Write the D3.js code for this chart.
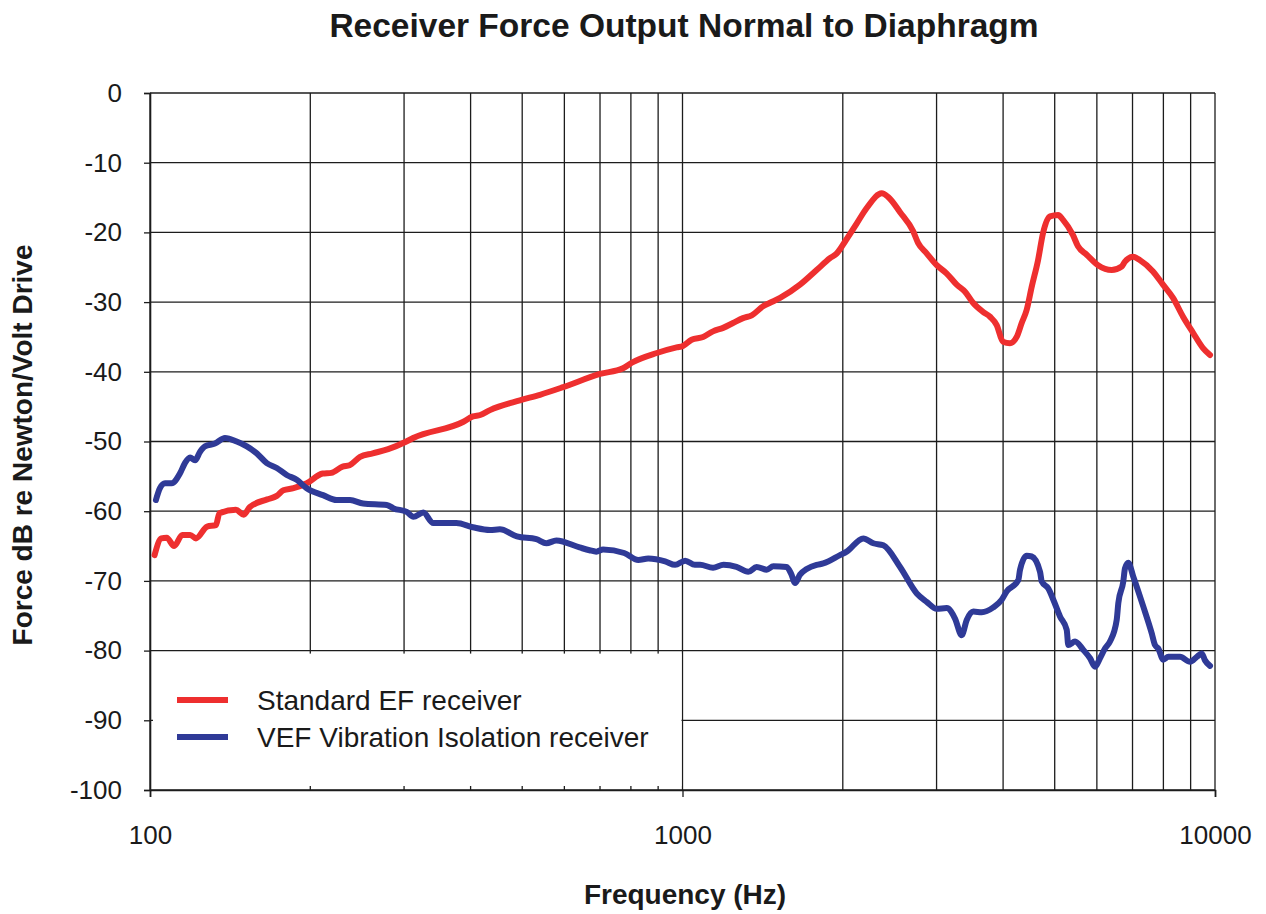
<!DOCTYPE html>
<html>
<head>
<meta charset="utf-8">
<script src="https://cdn.jsdelivr.net/npm/d3@7"></script>
<style>
  html, body { margin: 0; padding: 0; background: #fff; }
  svg { display: block; font-family: "Liberation Sans", Arial, Helvetica, sans-serif; }
</style>
</head>
<body>
<svg id="chart" width="1266" height="914"></svg>
<script>
// ---- Data ----
const titleText = "Receiver Force Output Normal to Diaphragm";
const xTitle = "Frequency (Hz)";
const yTitle = "Force dB re Newton/Volt Drive";
const seriesNames = ["Standard EF receiver", "VEF Vibration Isolation receiver"];
const seriesColors = ["#ee2f2f", "#2f3a97"];

const xTickValues = [100, 1000, 10000];
const xTickLabels = ["100", "1000", "10000"];
const yTickValues = [0, -10, -20, -30, -40, -50, -60, -70, -80, -90, -100];
const yTickLabels = ["0", "-10", "-20", "-30", "-40", "-50", "-60", "-70", "-80", "-90", "-100"];

const standardFreq = [102, 105, 107.5, 111, 115, 119, 122, 128, 133, 135, 145, 150, 154, 166, 173, 178, 186, 197, 211, 219, 230, 237, 248, 262, 280, 303, 312, 387, 404, 417, 435, 495, 540, 597, 700, 773, 803, 895, 975, 1002, 1040, 1093, 1141, 1192, 1244, 1299, 1349, 1417, 1460, 1525, 1662, 1786, 1892, 1949, 2020, 2125, 2218, 2367, 2432, 2562, 2710, 2769, 2874, 3002, 3135, 3273, 3393, 3512, 3667, 3780, 3891, 3998, 4121, 4242, 4335, 4430, 4527, 4652, 4754, 4900, 5073, 5184, 5412, 5530, 5742, 6030, 6397, 6680, 6776, 7015, 7232, 7648, 7986, 8340, 8709, 9094, 9495, 9787];
const standardDb = [-66.3, -63.9, -63.8, -65.0, -63.4, -63.4, -63.9, -62.2, -62.0, -60.3, -59.8, -60.5, -59.4, -58.3, -57.8, -57.0, -56.7, -56.0, -54.6, -54.5, -53.6, -53.4, -52.2, -51.7, -51.1, -50.0, -49.5, -47.2, -46.4, -46.2, -45.5, -44.1, -43.3, -42.2, -40.3, -39.5, -38.7, -37.3, -36.5, -36.3, -35.4, -35.0, -34.2, -33.7, -33.0, -32.3, -31.9, -30.6, -30.1, -29.4, -27.5, -25.4, -23.7, -23.0, -21.3, -18.7, -16.5, -14.4, -14.9, -17.1, -19.8, -21.5, -23.0, -24.7, -25.9, -27.5, -28.5, -30.1, -31.4, -32.1, -33.3, -35.7, -35.9, -35.0, -33.0, -31.1, -27.8, -24.0, -20.1, -17.7, -17.5, -18.2, -20.4, -22.0, -23.2, -24.7, -25.4, -24.9, -24.2, -23.5, -24.0, -25.6, -27.5, -29.4, -32.1, -34.4, -36.6, -37.6];

const vefFreq = [102.6, 104.4, 106.7, 109.8, 113.8, 116.3, 118.9, 121.5, 124.1, 126.8, 132.4, 138.3, 145.5, 152.0, 158.7, 165.7, 173.0, 180.6, 188.6, 196.9, 211.3, 224.2, 237.5, 251.3, 278.4, 286.8, 303.4, 312.3, 326.0, 340.3, 376.2, 404.0, 435.1, 454.0, 488.6, 531.6, 555.0, 579.5, 640.8, 669.1, 688.9, 709.4, 777.0, 825.9, 862.5, 927.6, 968.6, 1011.5, 1055, 1079, 1141, 1194, 1263, 1329, 1378, 1439, 1481, 1569, 1600, 1627, 1662, 1711, 1786, 1838, 1976, 2034, 2185, 2282, 2383, 2562, 2754, 2874, 3002, 3135, 3249, 3344, 3418, 3517, 3647, 3834, 3976, 4063, 4272, 4304, 4430, 4527, 4693, 4728, 4864, 4970, 5116, 5266, 5303, 5460, 5659, 5826, 5953, 6081, 6214, 6350, 6537, 6583, 6726, 6776, 6873, 7024, 7335, 7605, 7714, 7825, 7996, 8171, 8597, 8978, 9243, 9441, 9578, 9787];
const vefDb = [-58.4, -56.7, -56.0, -56.0, -54.6, -53.1, -52.3, -52.7, -51.5, -50.7, -50.3, -49.5, -50.0, -50.7, -51.7, -53.1, -53.8, -54.8, -55.5, -56.7, -57.7, -58.4, -58.4, -58.9, -59.1, -59.6, -60.1, -60.8, -60.2, -61.7, -61.7, -62.3, -62.7, -62.6, -63.6, -64.0, -64.6, -64.2, -65.2, -65.6, -65.8, -65.5, -66.0, -67.0, -66.8, -67.2, -67.7, -67.1, -67.7, -67.7, -68.1, -67.7, -68.0, -68.7, -68.0, -68.4, -67.9, -68.0, -69.0, -70.3, -69.1, -68.3, -67.7, -67.5, -66.3, -65.8, -63.9, -64.6, -64.9, -68.0, -71.8, -73.0, -74.0, -73.9, -75.4, -77.8, -75.6, -74.4, -74.5, -73.8, -72.7, -71.5, -69.9, -68.4, -66.4, -66.5, -68.7, -70.1, -71.1, -72.7, -75.1, -77.0, -79.2, -78.7, -79.9, -81.1, -82.3, -81.1, -79.7, -78.7, -75.6, -73.2, -70.1, -68.2, -67.4, -69.4, -73.7, -77.5, -79.2, -79.7, -81.3, -80.9, -80.9, -81.6, -80.9, -80.4, -81.4, -82.2];

// ---- Layout ----
const svg = d3.select("#chart");
const plot = { left: 150, right: 1215, top: 93, bottom: 790 };

const x = d3.scaleLog().domain([100, 10000]).range([plot.left, plot.right]);
const y = d3.scaleLinear().domain([-100, 0]).range([plot.bottom, plot.top]);

const gridColor = "#1c1c1c";
const textColor = "#1a1a1a";

// vertical grid (log minor)
const vGrid = [];
for (let d = 100; d < 10000; d *= 10) for (let k = 1; k <= 9; k++) vGrid.push(d * k);
vGrid.push(10000);

svg.append("g")
  .selectAll("line").data(vGrid).join("line")
  .attr("x1", d => x(d)).attr("x2", d => x(d))
  .attr("y1", plot.top).attr("y2", plot.bottom)
  .attr("stroke", gridColor).attr("stroke-width", 1.3);

svg.append("g")
  .selectAll("line").data(yTickValues).join("line")
  .attr("x1", plot.left).attr("x2", plot.right)
  .attr("y1", d => y(d)).attr("y2", d => y(d))
  .attr("stroke", gridColor).attr("stroke-width", 1.3);

// legend background box (white, covers grid)
svg.append("rect")
  .attr("x", x(100) + 3).attr("y", y(-80) + 3)
  .attr("width", x(1000) - 1 - (x(100) + 3))
  .attr("height", y(-100) - 4 - (y(-80) + 3))
  .attr("fill", "#fff");

// axes
const yAxis = d3.axisLeft(y).tickValues(yTickValues).tickSize(6).tickPadding(22)
  .tickFormat((d, i) => yTickLabels[i]);
const gy = svg.append("g").attr("transform", `translate(${plot.left},0)`).call(yAxis);
gy.select(".domain").attr("stroke", gridColor).attr("stroke-width", 1.6);
gy.selectAll(".tick line").attr("stroke", gridColor).attr("stroke-width", 1.3);
gy.selectAll(".tick text").attr("font-size", 26).attr("fill", textColor)
  .attr("font-family", "Liberation Sans, Arial, sans-serif");

const xAxis = d3.axisBottom(x).tickValues(xTickValues).tickSize(7).tickPadding(29)
  .tickFormat((d, i) => xTickLabels[i]);
const gx = svg.append("g").attr("transform", `translate(0,${plot.bottom})`).call(xAxis);
gx.select(".domain").attr("stroke", gridColor).attr("stroke-width", 1.6);
gx.selectAll(".tick line").attr("stroke", gridColor).attr("stroke-width", 1.3);
gx.selectAll(".tick text").attr("font-size", 26).attr("fill", textColor)
  .attr("font-family", "Liberation Sans, Arial, sans-serif");

// curves
const line = d3.line().x(d => x(d[0])).y(d => y(d[1])).curve(d3.curveMonotoneX);
const series = [
  { name: seriesNames[0], color: seriesColors[0], pts: d3.zip(standardFreq, standardDb) },
  { name: seriesNames[1], color: seriesColors[1], pts: d3.zip(vefFreq, vefDb) }
];
svg.append("g").selectAll("path").data(series).join("path")
  .attr("d", d => line(d.pts))
  .attr("fill", "none")
  .attr("stroke", d => d.color)
  .attr("stroke-width", 6)
  .attr("stroke-linejoin", "round")
  .attr("stroke-linecap", "round");

// legend
const lg = svg.append("g");
series.forEach((s, i) => {
  const cy = 700 + i * 37;
  lg.append("line").attr("x1", 177).attr("x2", 228).attr("y1", cy).attr("y2", cy)
    .attr("stroke", s.color).attr("stroke-width", 6);
  lg.append("text").attr("x", 257).attr("y", cy).attr("dy", "0.36em")
    .attr("font-size", 28).attr("fill", textColor).text(s.name);
});

// titles
svg.append("text").attr("x", 684).attr("y", 37).attr("text-anchor", "middle")
  .attr("font-size", 33.5).attr("font-weight", "bold").attr("fill", textColor).text(titleText);
svg.append("text").attr("x", 685).attr("y", 904).attr("text-anchor", "middle")
  .attr("font-size", 28).attr("font-weight", "bold").attr("fill", textColor).text(xTitle);
svg.append("text").attr("transform", "translate(32,445) rotate(-90)").attr("text-anchor", "middle")
  .attr("font-size", 28).attr("font-weight", "bold").attr("fill", textColor).text(yTitle);
</script>
</body>
</html>
